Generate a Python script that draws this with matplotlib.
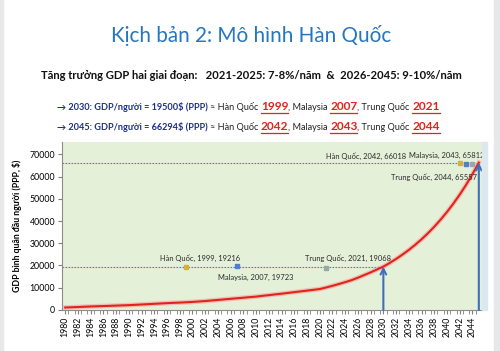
import matplotlib
matplotlib.use("Agg")
from matplotlib import pyplot as plt
from matplotlib.patches import Rectangle

plt.rcParams['font.family'] = ['Lato', 'DejaVu Sans']

years = list(range(1980, 2046))
gdp = [1100, 1200, 1300, 1450, 1550, 1650, 1750, 1850, 1950, 2050,
       2150, 2300, 2450, 2600, 2750, 2900, 3050, 3200, 3300, 3450,
       3600, 3800, 4000, 4250, 4500, 4750, 5000, 5250, 5500, 5750,
       6000, 6350, 6650, 7000, 7300, 7650, 8000, 8350, 8700, 9050,
       9400, 10100, 10850, 11650, 12500, 13400, 14500, 15700, 16900, 18200,
       19500, 21150, 22950, 24900, 27000, 29300, 31800, 34500, 37450, 40650,
       44100, 47850, 51900, 56300, 61100, 66294]

target_years = [2030, 2045]
target_values = [19500, 66294]

ref_names = ['Hàn Quốc', 'Malaysia', 'Trung Quốc']
ref_colors = ['#d4b13a', '#4f81c7', '#9aa5b1']
ref_years_2030 = [1999, 2007, 2021]
ref_values_2030 = [19216, 19723, 19068]
ref_years_2045 = [2042, 2043, 2044]
ref_values_2045 = [66018, 65812, 65557]


def main():
    fig = plt.figure(figsize=(5.0, 3.51), dpi=100)
    fig.patch.set_facecolor('white')

    # light frame like the slide screenshot
    fig.patches.append(Rectangle((0, 0), 0.006, 1, transform=fig.transFigure,
                                 color='#e6e8ea', zorder=0))
    fig.patches.append(Rectangle((0.988, 0), 0.012, 1, transform=fig.transFigure,
                                 color='#e6e8ea', zorder=0))
    fig.patches.append(Rectangle((0.964, 0.117), 0.01, 0.478, transform=fig.transFigure,
                                 color='#dbe8f0', zorder=0))

    # heading texts
    fig.text(0.503, 0.898, 'Kịch bản 2: Mô hình Hàn Quốc', ha='center', va='center',
             fontsize=14.9, color='#2476c0')
    fig.text(0.503, 0.786,
             'Tăng trưởng GDP hai giai đoạn:   2021-2025: 7-8%/năm  &  2026-2045: 9-10%/năm',
             ha='center', va='center', fontsize=8.1, fontweight='bold', color='#111111')

    fig.canvas.draw()
    renderer = fig.canvas.get_renderer()

    def line_of_parts(y, parts):
        x = 0.114
        for txt, color, weight, size, under in parts:
            t = fig.text(x, y, txt, ha='left', va='baseline', fontsize=size,
                         fontweight=weight, color=color)
            bb = t.get_window_extent(renderer).transformed(fig.transFigure.inverted())
            if under:
                fig.add_artist(plt.Line2D([bb.x0, bb.x1], [y - 0.008, y - 0.008],
                                          transform=fig.transFigure, color=color, lw=0.9))
            x = bb.x1

    navy = '#1c2f86'
    red = '#e2231a'
    small, big = 6.6, 8.6
    line_of_parts(0.686, [
        ('→ 2030: GDP/người = 19500$ (PPP) ', navy, 'bold', small, False),
        ('≈ Hàn Quốc ', '#222222', 'normal', small, False),
        ('1999', red, 'bold', big, True),
        (', Malaysia ', '#222222', 'normal', small, False),
        ('2007', red, 'bold', big, True),
        (', Trung Quốc ', '#222222', 'normal', small, False),
        ('2021', red, 'bold', big, True),
    ])
    line_of_parts(0.629, [
        ('→ 2045: GDP/người = 66294$ (PPP) ', navy, 'bold', small, False),
        ('≈ Hàn Quốc ', '#222222', 'normal', small, False),
        ('2042', red, 'bold', big, True),
        (', Malaysia ', '#222222', 'normal', small, False),
        ('2043', red, 'bold', big, True),
        (', Trung Quốc ', '#222222', 'normal', small, False),
        ('2044', red, 'bold', big, True),
    ])

    ax = fig.add_axes([0.124, 0.117, 0.840, 0.478])
    ax.set_facecolor('#e5f0d9')
    ax.set_xlim(1979.5, 2045.5)
    ax.set_ylim(0, 75500)

    # reference levels
    for ty, tv in zip(target_years, target_values):
        ax.plot([1979.5, ty], [tv, tv], color='#4f7fc0', lw=0.8, ls=(0, (1.5, 1.2)), zorder=2)
        ax.annotate('', xy=(ty, tv), xytext=(ty, 0),
                    arrowprops=dict(arrowstyle='->', color='#3f6fb8', lw=1.5,
                                    mutation_scale=10, shrinkA=0, shrinkB=0), zorder=4)

    # curve with soft shadow
    ax.plot(years, gdp, color='#f3a3a0', lw=3.4, alpha=0.6, zorder=3)
    ax.plot(years, gdp, color='#e2231a', lw=1.5, zorder=3)

    for c, yr, val in zip(ref_colors, ref_years_2030, ref_values_2030):
        ax.plot(yr, val, 's', ms=2.5, color=c, zorder=5)
    for c, yr, val in zip(ref_colors, ref_years_2045, ref_values_2045):
        ax.plot(yr, val, 's', ms=2.5, color=c, zorder=5)

    fs = 5.4
    lab = dict(fontsize=fs, color='#2a2a2a', zorder=6, va='center')
    ax.text(2001.2, 23300, f'{ref_names[0]}, {ref_years_2030[0]}, {ref_values_2030[0]}',
            ha='center', **lab)
    ax.text(2009.9, 14600, f'{ref_names[1]}, {ref_years_2030[1]}, {ref_values_2030[1]}',
            ha='center', **lab)
    ax.text(2024.5, 23200, f'{ref_names[2]}, {ref_years_2030[2]}, {ref_values_2030[2]}',
            ha='center', **lab)
    ax.text(2033.6, 69300, f'{ref_names[0]}, {ref_years_2045[0]}, {ref_values_2045[0]}',
            ha='right', **lab)
    ax.text(2045.8, 69300, f'{ref_names[1]}, {ref_years_2045[1]}, {ref_values_2045[1]}',
            ha='right', **lab)
    ax.text(2044.7, 59800, f'{ref_names[2]}, {ref_years_2045[2]}, {ref_values_2045[2]}',
            ha='right', **lab)

    ax.set_xticks(years[::2])
    ax.set_xticklabels([str(y) for y in years[::2]], rotation=90)
    ax.set_xticks([y + 0.5 for y in years[:-1]], minor=True)
    ax.set_yticks(range(0, 70001, 10000))
    ax.tick_params(axis='x', which='major', length=3, labelsize=6.3, color='#7f7f7f', pad=2)
    ax.tick_params(axis='x', which='minor', length=3, color='#7f7f7f')
    ax.tick_params(axis='y', length=3, labelsize=6.3, color='#7f7f7f', pad=2)
    for s in ['top', 'right']:
        ax.spines[s].set_visible(False)
    for s in ['left', 'bottom']:
        ax.spines[s].set_color('#8c8c8c')
        ax.spines[s].set_linewidth(0.8)

    ax.set_ylabel('GDP bình quân đầu người (PPP, $)', fontsize=6.3, fontweight='bold',
                  labelpad=5)

    plt.savefig('out.png', dpi=100)


if __name__ == "__main__":
    main()
